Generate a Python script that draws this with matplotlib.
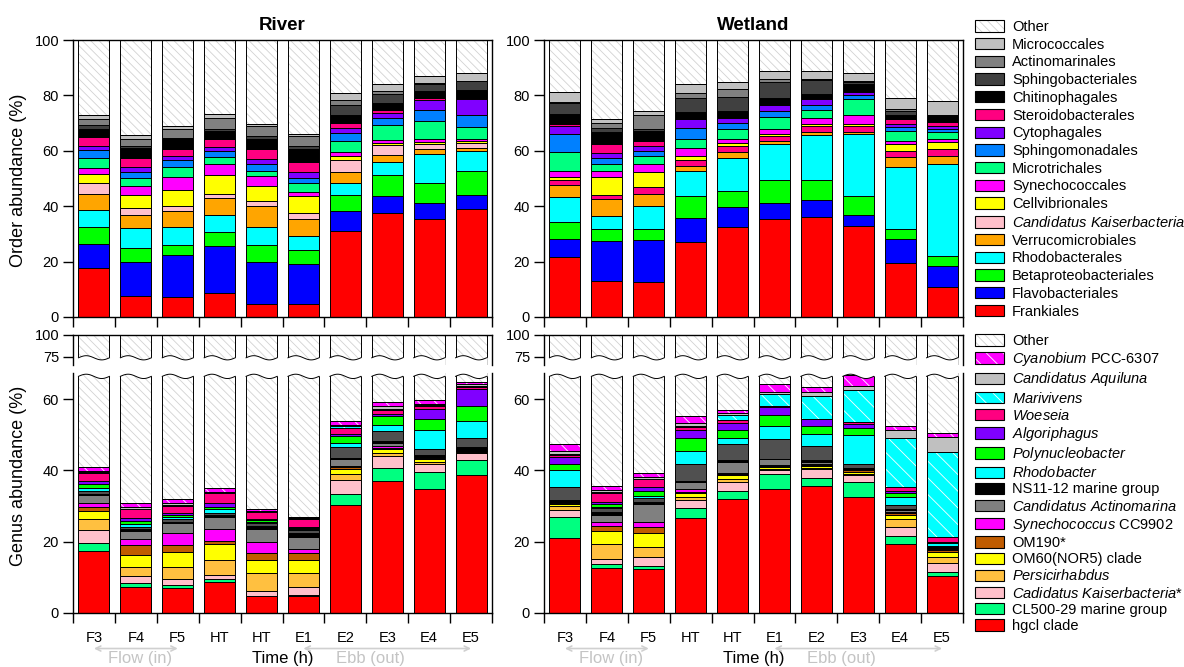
import numpy as np
import matplotlib
matplotlib.use("Agg")
from matplotlib import pyplot as plt
from matplotlib.patches import Patch
from matplotlib.transforms import blended_transform_factory

plt.rcParams["font.family"] = "Liberation Sans"
plt.rcParams["mathtext.fontset"] = "custom"
plt.rcParams["mathtext.rm"] = "Liberation Sans"
plt.rcParams["mathtext.it"] = "Liberation Sans:italic"
plt.rcParams["hatch.linewidth"] = 0.6

# ======= Data =====================================================

samples = ["F3", "F4", "F5", "HT", "HT", "E1", "E2", "E3", "E4", "E5"]

# orders, bottom of the stack first ("Other" fills up to 100 %)
order_names = [
    "Frankiales", "Flavobacteriales", "Betaproteobacteriales", "Rhodobacterales",
    "Verrucomicrobiales", r"$\it{Candidatus\ Kaiserbacteria}$", "Cellvibrionales",
    "Synechococcales", "Microtrichales", "Sphingomonadales", "Cytophagales",
    "Steroidobacterales", "Chitinophagales", "Sphingobacteriales", "Actinomarinales",
    "Micrococcales", "Other",
]
order_colors = [
    "#ff0000", "#0000ff", "#00ff00", "#00ffff", "#ffa500", "#ffc0cb", "#ffff00",
    "#ff00ff", "#00ff80", "#0080ff", "#8000ff", "#ff0080", "#000000", "#404040",
    "#808080", "#c0c0c0", "#ffffff",
]
# the wetland plot draws Kaiserbacteria in deep pink
wetland_order_colors = order_colors[:5] + ["#ff0080"] + order_colors[6:]

# cumulative abundance (%) at the top of each order, one row per sample
river_order_cum = [
    [17.8, 26.4, 32.5, 38.7, 44.5, 48.2, 51.8, 53.9, 57.5, 60.2, 61.9, 65.1, 68.0, 69.2, 71.6, 73.1],
    [7.5, 19.8, 24.8, 32.2, 37.0, 39.4, 44.2, 47.2, 50.2, 52.4, 54.2, 57.5, 61.1, 61.7, 64.1, 65.8],
    [7.1, 22.4, 26.0, 32.4, 38.4, 40.2, 45.8, 50.6, 54.3, 56.5, 58.1, 60.8, 64.1, 64.7, 68.0, 68.9],
    [8.7, 25.5, 30.7, 37.0, 43.0, 44.5, 51.1, 55.3, 57.7, 59.8, 61.4, 64.3, 67.1, 68.0, 71.7, 73.4],
    [4.7, 19.9, 26.0, 32.5, 40.2, 41.8, 47.2, 50.8, 52.7, 55.1, 57.1, 60.5, 64.1, 65.3, 68.9, 69.5],
    [4.7, 19.3, 24.1, 29.2, 35.4, 37.6, 43.6, 45.2, 48.4, 50.2, 52.3, 55.9, 60.7, 61.7, 65.3, 65.9],
    [31.0, 38.2, 44.0, 48.4, 52.3, 56.5, 58.3, 59.5, 63.7, 66.5, 68.1, 70.1, 73.1, 76.4, 78.3, 80.7],
    [37.6, 43.6, 51.1, 56.1, 58.4, 62.0, 62.9, 63.9, 69.2, 71.7, 73.5, 74.8, 77.2, 80.4, 81.6, 84.0],
    [35.2, 41.0, 48.4, 58.7, 60.5, 62.5, 63.3, 64.2, 70.7, 74.9, 78.3, 79.2, 81.6, 84.2, 84.3, 87.0],
    [39.0, 44.2, 52.7, 60.0, 61.0, 62.9, 63.5, 64.1, 68.7, 73.0, 78.6, 79.2, 81.9, 85.2, 85.2, 88.0],
]
wetland_order_cum = [
    [21.6, 28.2, 34.2, 43.4, 47.6, 49.6, 50.5, 52.7, 59.6, 65.9, 68.9, 69.8, 73.4, 77.3, 77.6, 81.4],
    [12.9, 27.6, 31.6, 36.4, 42.7, 43.9, 50.5, 52.7, 55.4, 57.5, 59.3, 62.3, 66.9, 68.2, 69.9, 71.3],
    [12.7, 27.7, 31.8, 40.0, 44.5, 46.9, 52.4, 55.1, 58.1, 59.9, 61.9, 63.7, 67.1, 68.0, 72.8, 74.3],
    [27.1, 35.8, 43.6, 52.7, 54.5, 56.6, 58.1, 61.1, 64.3, 68.3, 71.6, 71.6, 74.0, 78.9, 81.0, 84.2],
    [32.5, 39.8, 45.4, 57.5, 59.5, 61.9, 62.9, 64.1, 67.7, 69.9, 71.9, 72.3, 74.3, 79.4, 82.2, 84.9],
    [35.5, 41.2, 49.6, 62.5, 63.5, 65.5, 65.9, 67.9, 72.3, 74.3, 76.7, 76.7, 78.9, 84.8, 86.0, 88.7],
    [36.0, 42.4, 49.4, 65.8, 66.7, 68.9, 69.5, 71.9, 74.9, 76.7, 78.8, 79.2, 80.6, 85.4, 86.0, 88.9],
    [32.8, 36.7, 43.6, 65.9, 66.7, 68.9, 69.8, 73.1, 78.6, 80.1, 81.3, 81.6, 84.2, 84.9, 85.2, 88.2],
    [19.5, 28.2, 31.8, 54.2, 57.7, 59.9, 62.3, 63.7, 67.3, 68.7, 69.8, 71.6, 72.8, 74.3, 75.2, 78.9],
    [10.7, 18.3, 21.9, 55.1, 58.1, 60.7, 63.1, 64.3, 66.9, 68.0, 68.9, 70.5, 72.5, 72.8, 72.8, 78.0],
]

# genera, bottom of the stack first (None = not listed in the legend)
genus_names = [
    "hgcl clade", "CL500-29 marine group", r"$\it{Cadidatus\ Kaiserbacteria}$*",
    r"$\it{Persicirhabdus}$", "OM60(NOR5) clade", "OM190*", r"$\it{Synechococcus}$ CC9902",
    r"$\it{Candidatus\ Actinomarina}$", "NS11-12 marine group", None,
    r"$\it{Rhodobacter}$", r"$\it{Polynucleobacter}$", r"$\it{Algoriphagus}$",
    r"$\it{Woeseia}$", r"$\it{Marivivens}$", r"$\it{Candidatus\ Aquiluna}$",
    r"$\it{Cyanobium}$ PCC-6307", "Other",
]
genus_colors = [
    "#ff0000", "#00ff80", "#ffc0cb", "#ffc040", "#ffff00", "#c05c00", "#ff00ff",
    "#808080", "#000000", "#505050", "#00ffff", "#00ff00", "#8000ff", "#ff0080",
    "#00ffff", "#c0c0c0", "#ff00ff", "#ffffff",
]

river_genus_cum = [
    [17.5, 19.6, 23.3, 26.3, 28.7, 29.8, 30.8, 33.1, 33.4, 34.2, 35.1, 36.3, 37.0, 39.3, 39.6, 39.9, 41.0],
    [7.2, 8.4, 10.5, 13.0, 16.3, 19.1, 20.8, 23.1, 23.5, 24.2, 25.0, 25.9, 26.6, 29.1, 29.3, 29.6, 30.8],
    [7.0, 7.9, 9.6, 13.0, 17.1, 19.1, 22.4, 25.2, 25.6, 26.3, 26.8, 27.5, 28.0, 30.0, 30.3, 30.8, 32.0],
    [8.6, 9.5, 10.7, 14.9, 19.4, 20.3, 23.5, 27.0, 27.4, 28.0, 29.1, 29.8, 30.8, 33.6, 33.7, 34.0, 35.1],
    [4.7, 4.8, 6.3, 11.2, 14.9, 16.8, 19.8, 23.5, 24.4, 25.2, 25.6, 26.1, 26.3, 28.2, 28.3, 28.7, 29.1],
    [4.7, 5.0, 7.3, 11.2, 14.9, 16.8, 17.9, 21.4, 22.4, 23.3, 23.5, 23.7, 24.0, 26.3, 26.4, 26.7, 27.0],
    [30.3, 33.3, 37.3, 39.1, 40.4, 41.0, 41.3, 43.3, 43.5, 46.6, 47.8, 49.6, 50.3, 52.0, 52.4, 52.7, 53.9],
    [37.0, 40.7, 44.0, 44.9, 45.9, 46.4, 46.8, 47.7, 48.3, 51.0, 52.7, 55.2, 55.9, 56.8, 57.3, 58.0, 59.1],
    [34.7, 39.6, 41.8, 42.4, 43.1, 43.3, 43.5, 43.8, 44.3, 46.1, 51.3, 54.5, 57.2, 58.0, 58.2, 58.7, 59.6],
    [38.7, 42.9, 44.9, 45.0, 45.2, 45.3, 45.4, 45.5, 46.6, 49.2, 53.9, 58.0, 62.9, 63.4, 63.6, 64.1, 64.8],
]
wetland_genus_cum = [
    [21.0, 27.0, 28.9, 30.0, 30.7, 30.8, 31.0, 31.1, 31.6, 35.4, 40.1, 41.7, 43.8, 44.3, 44.5, 45.4, 47.5],
    [12.6, 13.8, 15.1, 19.4, 23.1, 24.5, 25.6, 27.5, 28.4, 29.4, 29.8, 30.5, 31.2, 33.7, 33.9, 34.5, 35.6],
    [12.3, 13.3, 15.8, 18.6, 22.4, 24.0, 25.6, 30.5, 31.0, 32.2, 32.8, 34.2, 35.4, 37.5, 37.7, 38.2, 39.3],
    [26.6, 29.4, 31.7, 32.6, 33.6, 34.0, 34.7, 36.8, 37.1, 41.9, 45.4, 49.1, 51.4, 52.2, 52.4, 53.4, 55.2],
    [31.9, 34.2, 36.6, 37.7, 38.7, 39.1, 39.3, 42.4, 42.9, 47.5, 49.2, 51.4, 53.3, 54.1, 55.5, 56.1, 56.9],
    [34.9, 38.9, 40.1, 40.5, 41.0, 41.3, 41.5, 43.1, 43.3, 48.7, 52.4, 55.5, 57.8, 58.1, 61.3, 62.0, 64.1],
    [35.6, 37.9, 40.4, 40.8, 41.3, 41.6, 41.8, 42.4, 42.9, 46.9, 50.3, 52.4, 54.3, 54.5, 60.8, 62.0, 63.4],
    [32.4, 36.8, 38.7, 39.1, 39.6, 40.1, 40.4, 40.5, 40.7, 41.9, 49.9, 52.0, 53.1, 53.6, 62.6, 63.7, 66.6],
    [19.3, 21.6, 24.0, 26.3, 27.5, 28.1, 28.3, 28.9, 29.1, 30.3, 32.6, 33.7, 34.3, 35.4, 49.2, 51.3, 52.4],
    [10.5, 11.5, 14.0, 15.7, 17.2, 17.7, 17.9, 18.2, 18.6, 18.8, 19.6, 19.8, 20.0, 21.4, 45.2, 49.4, 50.5],
]

# ======= Style ====================================================

OTHER_HATCH = ("\\\\\\\\", "#d2d2d2")
WHITE_HATCH = ("\\\\", "#ffffff")
order_hatches = [None] * 16 + [OTHER_HATCH]
genus_hatches = [None] * 14 + [WHITE_HATCH, None, WHITE_HATCH, OTHER_HATCH]

BAR_W = 0.74
EDGE_LW = 0.7
TICK_FS = 10.5
GRAY_TEXT = "#c4c4c4"

W, H = 1184, 667


def fig_rect(left, top, right, bottom):
    # pixel box -> figure fraction
    return [left / W, 1 - bottom / H, (right - left) / W, (bottom - top) / H]


def draw_stack(ax, cum, colors, hatches):
    x = np.arange(len(samples))
    cum = np.asarray(cum, dtype=float)
    n = len(x)
    edges = np.column_stack([np.zeros(n), cum, np.full(n, 100.0)])
    for j, (color, hatch) in enumerate(zip(colors, hatches)):
        bottom = edges[:, j]
        height = edges[:, j + 1] - bottom
        if hatch:
            ax.bar(x, height, BAR_W, bottom=bottom, color=color, edgecolor=hatch[1],
                   linewidth=0, hatch=hatch[0])
            ax.bar(x, height, BAR_W, bottom=bottom, facecolor="none", edgecolor="black",
                   linewidth=EDGE_LW)
        else:
            ax.bar(x, height, BAR_W, bottom=bottom, color=color, edgecolor="black",
                   linewidth=EDGE_LW)


def style_axis(ax, yticks, ylim, labels=False, xticks=True):
    ax.set_xlim(-0.5, len(samples) - 0.5)
    ax.set_ylim(*ylim)
    ax.set_yticks(yticks)
    for sp in ax.spines.values():
        sp.set_linewidth(1.0)
    ax.tick_params(axis="y", length=7, width=1, labelsize=TICK_FS, pad=3)
    if xticks:
        ax.set_xticks(np.arange(-0.5, len(samples), 1))
        ax.set_xticklabels([])
        ax.tick_params(axis="x", which="major", length=7, width=1)
    else:
        ax.set_xticks([])
    if labels:
        ax.set_xticks(np.arange(len(samples)), minor=True)
        ax.set_xticklabels(samples, minor=True)
        ax.tick_params(axis="x", which="minor", length=0, pad=13, labelsize=TICK_FS)


def draw_wave(ax, y0, amp, fill_to):
    # wavy cut across every bar at the axis break
    trans = blended_transform_factory(ax.transData, ax.transAxes)
    t = np.linspace(0, 1, 60)
    pad = 0.03
    for xc in np.arange(len(samples)):
        xs = xc - BAR_W / 2 + BAR_W * t
        ys = y0 + amp * np.sin(2 * np.pi * t)
        ax.fill(np.r_[xs[0] - pad, xs, xs[-1] + pad, xs[-1] + pad, xs[0] - pad],
                np.r_[ys[0], ys, ys[-1], fill_to, fill_to],
                color="white", transform=trans, zorder=3, linewidth=0)
        ax.plot(xs, ys, color="black", lw=EDGE_LW, transform=trans, zorder=4)


def tide_labels(ax):
    trans = blended_transform_factory(ax.transData, ax.transAxes)
    arrow = dict(arrowstyle="<->", color="#d0d0d0", lw=1.2, shrinkA=0, shrinkB=0,
                 mutation_scale=9)
    ax.annotate("", xy=(2, -0.148), xytext=(0, -0.148), xycoords=trans, textcoords=trans,
                arrowprops=arrow, annotation_clip=False)
    ax.annotate("", xy=(9, -0.148), xytext=(5, -0.148), xycoords=trans, textcoords=trans,
                arrowprops=arrow, annotation_clip=False)
    ax.text(1.1, -0.19, "Flow (in)", transform=trans, ha="center", va="center",
            color=GRAY_TEXT, fontsize=12)
    ax.text(6.6, -0.19, "Ebb (out)", transform=trans, ha="center", va="center",
            color=GRAY_TEXT, fontsize=12)
    ax.set_xlabel("Time (h)", fontsize=12)
    ax.xaxis.set_label_coords(0.5, -0.16)


def legend_handles(colors, hatches):
    handles = []
    for color, hatch in zip(colors, hatches):
        if hatch:
            handles.append((Patch(facecolor=color, edgecolor=hatch[1], linewidth=0, hatch=hatch[0]),
                            Patch(facecolor="none", edgecolor="black", linewidth=0.8)))
        else:
            handles.append(Patch(facecolor=color, edgecolor="black", linewidth=0.8))
    return handles


def main() -> None:
    fig = plt.figure(figsize=(W / 100, H / 100), dpi=100)

    panels = [
        ("River", 73, river_order_cum, order_colors, river_genus_cum),
        ("Wetland", 544, wetland_order_cum, wetland_order_colors, wetland_genus_cum),
    ]
    for title, left, order_cum, o_colors, genus_cum in panels:
        right = left + 419

        # order level
        ax_o = fig.add_axes(fig_rect(left, 40, right, 317))
        draw_stack(ax_o, order_cum, o_colors, order_hatches)
        style_axis(ax_o, [0, 20, 40, 60, 80, 100], (0, 100))
        ax_o.set_title(title, fontsize=13.5, fontweight="bold", pad=7)

        # genus level, broken y axis
        ax_hi = fig.add_axes(fig_rect(left, 335, right, 365))
        ax_lo = fig.add_axes(fig_rect(left, 373, right, 613))
        for ax in (ax_hi, ax_lo):
            draw_stack(ax, genus_cum, genus_colors, genus_hatches)
        style_axis(ax_hi, [75, 100], (65.4, 100), xticks=False)
        style_axis(ax_lo, [0, 20, 40, 60], (0, 67.3), labels=True)
        ax_hi.spines["bottom"].set_visible(False)
        ax_lo.spines["top"].set_visible(False)
        draw_wave(ax_hi, 0.24, 0.07, 0.0)
        draw_wave(ax_lo, 0.986, 0.009, 1.0)
        tide_labels(ax_lo)

    fig.text(19 / W, 1 - 180 / H, "Order abundance (%)", rotation=90, ha="center",
             va="center", fontsize=13)
    fig.text(19 / W, 1 - 476 / H, "Genus abundance (%)", rotation=90, ha="center",
             va="center", fontsize=13)

    # legends, top entry first
    leg_kw = dict(loc="upper left", frameon=False, fontsize=10.5, handlelength=2.0,
                  handleheight=0.82, handletextpad=0.55, borderpad=0, borderaxespad=0)
    h = legend_handles(order_colors, order_hatches)
    fig.legend(h[::-1], order_names[::-1], bbox_to_anchor=(975 / W, 1 - 20 / H),
               labelspacing=0.255, **leg_kw)

    keep = [i for i, name in enumerate(genus_names) if name is not None]
    h = legend_handles(genus_colors, genus_hatches)
    fig.legend([h[i] for i in keep[::-1]], [genus_names[i] for i in keep[::-1]],
               bbox_to_anchor=(975 / W, 1 - 334 / H), labelspacing=0.15, **leg_kw)

    fig.savefig("out.png", dpi=100)
    plt.close(fig)


if __name__ == "__main__":
    main()
